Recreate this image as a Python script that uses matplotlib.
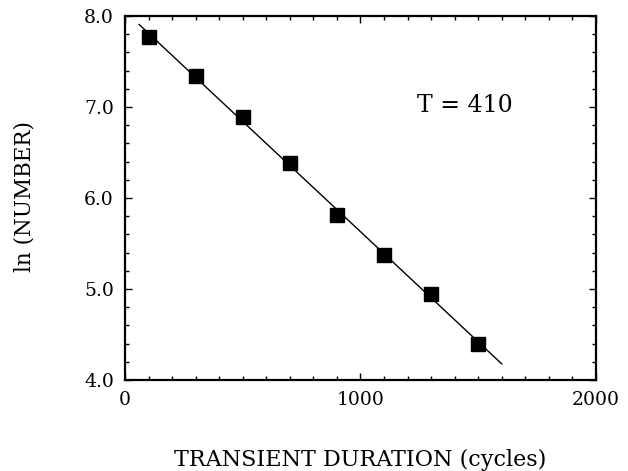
from matplotlib import pyplot as plt
from matplotlib.ticker import MultipleLocator
import numpy as np

# 数据
duration = [100, 300, 500, 700, 900, 1100, 1300, 1500]           # 瞬态持续时间 (cycles)
ln_number = [7.77, 7.34, 6.89, 6.39, 5.81, 5.37, 4.95, 4.40]     # ln(NUMBER)
fit_range = [60, 1600]                                           # 拟合直线的横坐标范围
x_ticks = [0, 1000, 2000]
y_ticks = [4.0, 5.0, 6.0, 7.0, 8.0]
note = "T = 410"

plt.rcParams['font.family'] = ['DejaVu Serif']

fig = plt.figure(figsize=(6.28, 4.71), dpi=100)
ax = fig.add_axes([0.199, 0.193, 0.75, 0.773])

# 拟合直线
k, b = np.polyfit(duration, ln_number, 1)
xf = np.array(fit_range)
ax.plot(xf, k * xf + b, color="black", lw=1.0, zorder=2)
ax.plot(duration, ln_number, "s", color="black", markersize=9.5, zorder=3)

ax.set_xlim(0, 2000)
ax.set_ylim(4.0, 8.0)
ax.set_xticks(x_ticks)
ax.set_xticklabels([str(v) for v in x_ticks])
ax.set_yticks(y_ticks)
ax.set_yticklabels(["%.1f" % v for v in y_ticks])
ax.xaxis.set_minor_locator(MultipleLocator(100))
ax.yaxis.set_minor_locator(MultipleLocator(0.2))
ax.tick_params(which="both", direction="in", top=True, right=True, labelsize=13.5, width=1.0)
ax.tick_params(which="major", length=5, pad=8)
ax.tick_params(which="minor", length=3)
for s in ax.spines.values():
    s.set_linewidth(1.6)

ax.text(1444, 7.02, note, fontsize=17, ha="center", va="center")

ax.set_xlabel("TRANSIENT DURATION (cycles)", fontsize=16)
ax.set_ylabel("ln (NUMBER)", fontsize=15.5)
ax.xaxis.set_label_coords(0.5, -0.19)
ax.yaxis.set_label_coords(-0.19, 0.505)

fig.savefig("out.png", dpi=100)
